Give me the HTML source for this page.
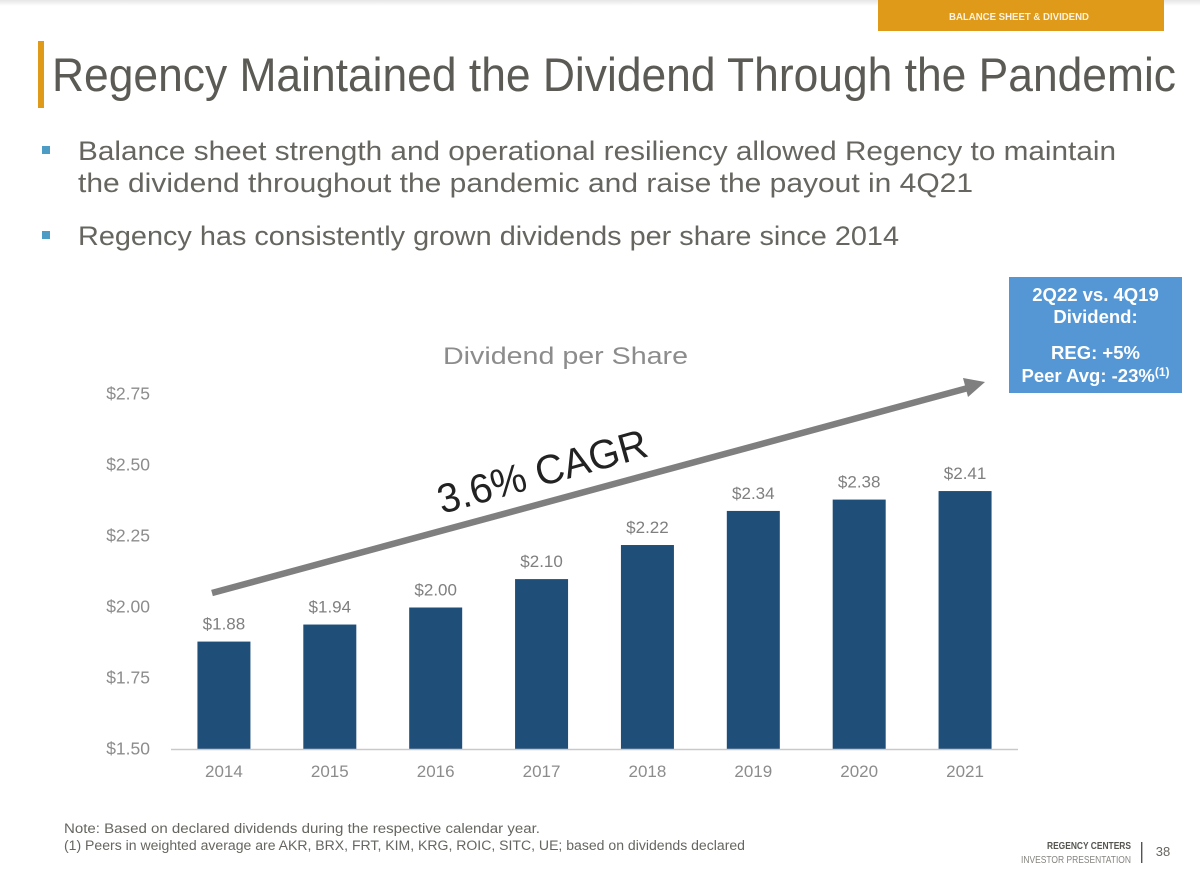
<!DOCTYPE html>
<html lang="en">
<head>
<meta charset="utf-8">
<title>Regency Maintained the Dividend Through the Pandemic</title>
<style>
  html, body { margin: 0; padding: 0; background: #fff; }
  body { width: 1200px; height: 889px; overflow: hidden; }
  svg { display: block; font-family: "Liberation Sans", sans-serif; }
</style>
</head>
<body>
<svg id="slide" xmlns="http://www.w3.org/2000/svg" width="1200" height="889" viewBox="0 0 1200 889">
  <defs>
    <linearGradient id="topShade" x1="0" y1="0" x2="0" y2="1">
      <stop offset="0" stop-color="#e6e6e6"/>
      <stop offset="1" stop-color="#ffffff"/>
    </linearGradient>
  </defs>
  <rect x="0" y="0" width="1200" height="889" fill="#ffffff"/>
  <rect x="0" y="0" width="1200" height="6" fill="url(#topShade)"/>

  <rect x="878" y="0" width="286" height="31" fill="#de9a18"/>
  <text x="1019" y="20" text-anchor="middle" font-size="10.5" font-weight="700" fill="#fbf3e0" textLength="140" lengthAdjust="spacingAndGlyphs">BALANCE SHEET &amp; DIVIDEND</text>

  <rect x="38" y="41" width="6" height="67" fill="#de9a18"/>
  <text x="52" y="91" font-size="47" fill="#5b5a54" textLength="1124" lengthAdjust="spacingAndGlyphs">Regency Maintained the Dividend Through the Pandemic</text>

  <rect x="42" y="146" width="8" height="8" fill="#4d9cc6"/>
  <text x="78" y="160" font-size="27" fill="#66655f" textLength="1038" lengthAdjust="spacingAndGlyphs">Balance sheet strength and operational resiliency allowed Regency to maintain</text>
  <text x="78" y="192" font-size="27" fill="#66655f" textLength="895" lengthAdjust="spacingAndGlyphs">the dividend throughout the pandemic and raise the payout in 4Q21</text>
  <rect x="42" y="231" width="8" height="8" fill="#4d9cc6"/>
  <text x="78" y="245" font-size="27" fill="#66655f" textLength="821" lengthAdjust="spacingAndGlyphs">Regency has consistently grown dividends per share since 2014</text>

  <text x="443" y="364" font-size="24" fill="#8c8c8c" textLength="245" lengthAdjust="spacingAndGlyphs">Dividend per Share</text>

  <g id="chart"></g>

  <g>
    <line x1="212" y1="593" x2="968" y2="388" stroke="#7f7f7f" stroke-width="6.5"/>
    <polygon points="985,382 963,378 968,397" fill="#7f7f7f"/>
  </g>
  <text transform="translate(442,514) rotate(-15.6)" font-size="41" fill="#222222" textLength="216" lengthAdjust="spacingAndGlyphs">3.6% CAGR</text>

  <rect x="1009" y="277" width="173" height="116" fill="#5597d5"/>
  <g font-weight="700" font-size="18.5" fill="#ffffff" text-anchor="middle">
    <text x="1095.5" y="301">2Q22 vs. 4Q19</text>
    <text x="1095.5" y="323">Dividend:</text>
    <text x="1095.5" y="359">REG: +5%</text>
    <text x="1095.5" y="382">Peer Avg: -23%<tspan font-size="12" dy="-6">(1)</tspan></text>
  </g>

  <text x="64" y="833" font-size="13.5" fill="#66655f" textLength="476" lengthAdjust="spacingAndGlyphs">Note: Based on declared dividends during the respective calendar year.</text>
  <text x="64" y="850" font-size="13.5" fill="#66655f" textLength="681" lengthAdjust="spacingAndGlyphs">(1) Peers in weighted average are AKR, BRX, FRT, KIM, KRG, ROIC, SITC, UE; based on dividends declared</text>

  <text x="1131" y="849" text-anchor="end" font-size="10" font-weight="700" fill="#55544e" textLength="84" lengthAdjust="spacingAndGlyphs">REGENCY CENTERS</text>
  <text x="1131" y="863" text-anchor="end" font-size="10.5" fill="#85847f" textLength="110" lengthAdjust="spacingAndGlyphs">INVESTOR PRESENTATION</text>
  <rect x="1141" y="842" width="1.4" height="21" fill="#55544e"/>
  <text x="1163" y="856" text-anchor="middle" font-size="13" fill="#66655f">38</text>
</svg>

<script>
  var categories = ['2014', '2015', '2016', '2017', '2018', '2019', '2020', '2021'];
  var dividends = [1.88, 1.94, 2.00, 2.10, 2.22, 2.34, 2.38, 2.41];
  var valueLabels = ['$1.88', '$1.94', '$2.00', '$2.10', '$2.22', '$2.34', '$2.38', '$2.41'];
  var yTicks = [1.50, 1.75, 2.00, 2.25, 2.50, 2.75];
  var yTickLabels = ['$1.50', '$1.75', '$2.00', '$2.25', '$2.50', '$2.75'];

  var SVG_NS = 'http://www.w3.org/2000/svg';
  var chart = document.getElementById('chart');
  var plotLeft = 171;
  var plotRight = 1018;
  var baselineY = 749.5;
  var topY = 394.5;
  var barWidth = 53;

  function yScale(v) {
    return baselineY - (v - yTicks[0]) / (yTicks[yTicks.length - 1] - yTicks[0]) * (baselineY - topY);
  }
  function xCenter(i) {
    return plotLeft + (plotRight - plotLeft) * (i + 0.5) / categories.length;
  }
  function make(tag, attrs, text) {
    var el = document.createElementNS(SVG_NS, tag);
    Object.keys(attrs).forEach(function (k) { el.setAttribute(k, attrs[k]); });
    if (text !== undefined) { el.textContent = text; }
    chart.appendChild(el);
    return el;
  }

  yTicks.forEach(function (t, i) {
    var label = make('text', { x: 150, y: yScale(t) + 5, 'text-anchor': 'end', 'font-size': 17.5, fill: '#8c8c8c' }, yTickLabels[i]);
    
    
  });

  categories.forEach(function (c, i) {
    var y = yScale(dividends[i]);
    var bar = make('rect', { x: xCenter(i) - barWidth / 2, y: y, width: barWidth, height: baselineY - y, fill: '#1f4e79' });
    
    

    var value = make('text', { x: xCenter(i), y: y - 12, 'text-anchor': 'middle', 'font-size': 17, fill: '#7f7f7f' }, valueLabels[i]);
    
    

    var year = make('text', { x: xCenter(i), y: 777, 'text-anchor': 'middle', 'font-size': 17, fill: '#8c8c8c' }, c);
    
    
  });

  var axis = make('line', { x1: plotLeft, x2: plotRight, y1: baselineY, y2: baselineY, stroke: '#c9c9c9', 'stroke-width': 1.5 });
  
  
</script>
</body>
</html>
